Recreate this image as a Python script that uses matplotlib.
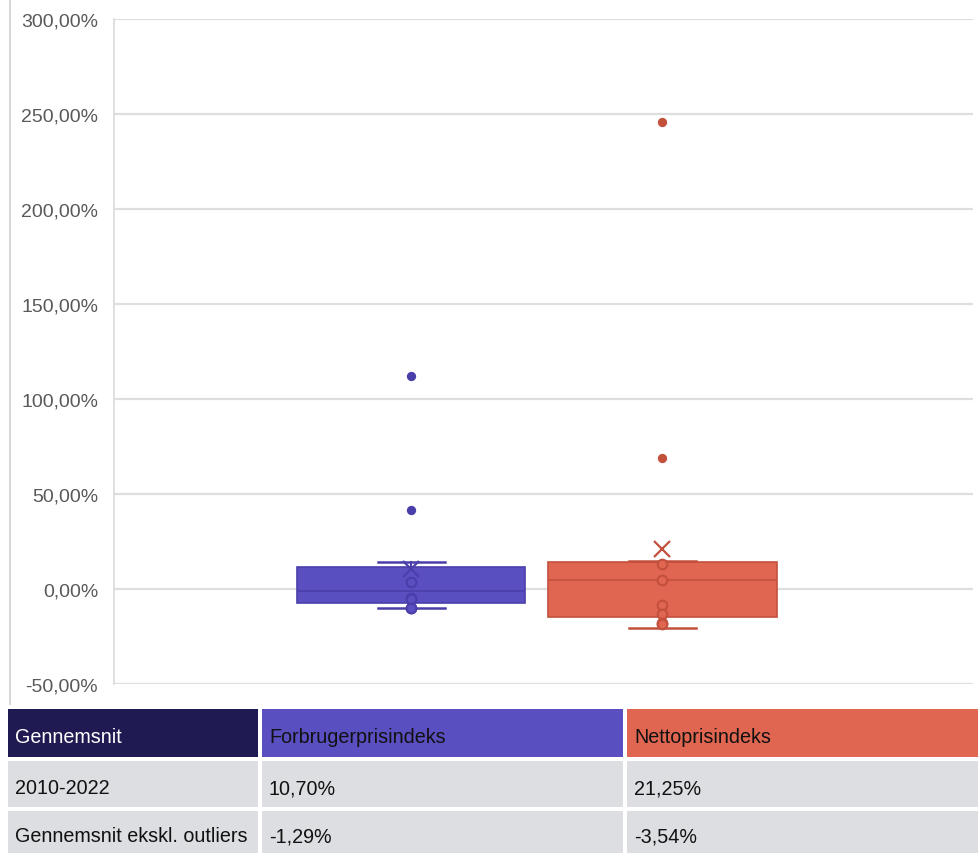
import matplotlib.pyplot as plt
from matplotlib.patches import Rectangle
from matplotlib.lines import Line2D
from matplotlib.ticker import FuncFormatter

plt.rcParams['font.family'] = ['Liberation Sans', 'DejaVu Sans']

# Data (percent)
series = ["Forbrugerprisindeks", "Nettoprisindeks"]
whislo = [-10.0, -20.5]
q1 = [-7.5, -14.9]
median = [-1.2, 4.9]
q3 = [11.4, 14.0]
whishi = [14.4, 14.6]
means = [10.70, 21.25]
inner_fpi = [3.7, -4.7, -5.3, -10.0, -10.0]
inner_npi = [13.2, 4.9, -8.4, -13.2, -17.9, -18.5]
outliers_fpi = [112.1, 41.6]
outliers_npi = [245.8, 68.9]

# Table below the chart
table_header = ["Gennemsnit", "Forbrugerprisindeks", "Nettoprisindeks"]
table_rows = [
    ["2010-2022", "10,70%", "21,25%"],
    ["Gennemsnit ekskl. outliers", "-1,29%", "-3,54%"],
]

fill_colors = ["#5A4FC1", "#E06651"]
edge_colors = ["#4A3FAA", "#C2503D"]
header_colors = ["#201A52", "#5A4FC1", "#E06651"]
header_text = ["white", "#111111", "#111111"]

W, H = 979, 854
fig = plt.figure(figsize=(W / 100, H / 100), dpi=100)

ax_left, ax_right, ax_top, ax_bottom = 114, 973, 20, 685
ax = fig.add_axes([ax_left / W, 1 - ax_bottom / H, (ax_right - ax_left) / W, (ax_bottom - ax_top) / H])

positions = [0.3458, 0.6385]
stats = []
for i, name in enumerate(series):
    stats.append(dict(label=name, whislo=whislo[i], q1=q1[i], med=median[i],
                      q3=q3[i], whishi=whishi[i], mean=means[i], fliers=[]))

for i, st in enumerate(stats):
    ax.bxp([st], positions=[positions[i]], widths=0.266, capwidths=0.078,
           showmeans=True, showfliers=False, patch_artist=True,
           boxprops=dict(facecolor=fill_colors[i], edgecolor=edge_colors[i], linewidth=1.2),
           medianprops=dict(color=edge_colors[i], linewidth=1.2),
           whiskerprops=dict(color=edge_colors[i], linewidth=1.5),
           capprops=dict(color=edge_colors[i], linewidth=1.8),
           meanprops=dict(marker='x', markersize=11, markeredgewidth=1.6,
                          markeredgecolor=edge_colors[i]),
           zorder=3)

inner = [inner_fpi, inner_npi]
outs = [outliers_fpi, outliers_npi]
for i in range(2):
    ax.scatter([positions[i]] * len(inner[i]), inner[i], s=48, facecolor=fill_colors[i],
               edgecolor=edge_colors[i], linewidth=1.5, zorder=4)
    ax.scatter([positions[i]] * len(outs[i]), outs[i], s=45, color=edge_colors[i],
               linewidth=0, zorder=4)

ax.set_xlim(0, 1)
ax.set_ylim(-50, 300)
ax.set_yticks(range(-50, 301, 50))
ax.yaxis.set_major_formatter(FuncFormatter(lambda v, p: f"{v:.2f}%".replace(".", ",")))
ax.set_xticks([])
ax.tick_params(axis='y', length=0, pad=11.5, labelsize=14, labelcolor="#595959")
ax.grid(axis='y', color="#DEDEDE", linewidth=1.6, zorder=0)
for s in ["top", "right", "bottom"]:
    ax.spines[s].set_visible(False)
ax.spines["left"].set_color("#DADADA")
ax.spines["left"].set_linewidth(1.2)
ax.set_axisbelow(True)

# thin frame line on the far left
fig.add_artist(Line2D([10 / W, 10 / W], [1, 1 - 705 / H], color="#CFCFCF", linewidth=1.2))

# table
col_x = [8, 262, 627, 979]
row_y = [710, 762, 812, 854]
for r in range(3):
    for c in range(3):
        x0, x1 = col_x[c], col_x[c + 1] - (4 if c < 2 else 0)
        y0, y1 = row_y[r], row_y[r + 1] - (4 if r < 2 else 0)
        if r == 0:
            fc, tc, txt = header_colors[c], header_text[c], table_header[c]
        else:
            fc, tc, txt = "#DDDEE2", "#111111", table_rows[r - 1][c]
        fig.add_artist(Rectangle((x0 / W, 1 - y1 / H), (x1 - x0) / W, (y1 - y0) / H,
                                 facecolor=fc, edgecolor="none", transform=fig.transFigure))
        fig.text((x0 + 7) / W, 1 - ((y0 + y1) / 2 + 4) / H, txt, color=tc,
                 fontsize=14.2, va='center', ha='left')

fig.savefig("out.png", dpi=100)
